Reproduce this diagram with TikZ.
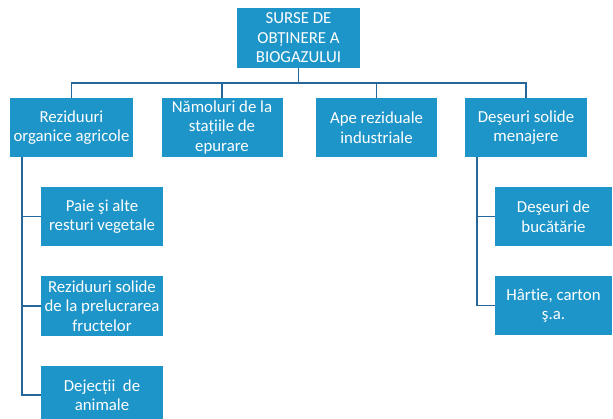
\documentclass[tikz,border=0pt]{standalone}
\usepackage{fontspec}
\setmainfont[Ligatures={NoCommon}]{Carlito}
\definecolor{boxblue}{HTML}{1E95C8}
\definecolor{lineblue}{HTML}{25679A}
\begin{document}
\begin{tikzpicture}[x=1pt,y=-1pt,
  box/.style={draw=none,fill=boxblue,text=white,align=center,inner sep=0pt,
    font=\fontsize{16.8}{19.5}\selectfont},
  conn/.style={draw=lineblue,line width=1.8pt}]
\useasboundingbox (0,0) rectangle (613,419);
\clip (0,0) rectangle (613,419);
\node[box,minimum width=123pt,minimum height=60pt] (top) at (298.5,38) {SURSE DE\\OBȚINERE A\\BIOGAZULUI};
\node[box,minimum width=123pt,minimum height=59pt] (b1) at (71.5,127.5) {Reziduuri\\organice agricole};
\node[box,minimum width=121pt,minimum height=59pt] (b2) at (222,127.5) {Nămoluri de la\\stațiile de\\epurare};
\node[box,minimum width=121pt,minimum height=59pt] (b3) at (376.5,127.5) {Ape reziduale\\industriale};
\node[box,minimum width=122pt,minimum height=59pt] (b4) at (526,127.5) {Deşeuri solide\\menajere};
\node[box,minimum width=122pt,minimum height=59pt] (c1) at (102,216.5) {Paie şi alte\\resturi vegetale};
\node[box,minimum width=122pt,minimum height=60pt] (c2) at (102,306) {Reziduuri solide\\de la prelucrarea\\fructelor};
\node[box,minimum width=122pt,minimum height=58pt] (c3) at (102,395) {Dejecții\ \ de\\animale};
\node[box,minimum width=117pt,minimum height=59pt] (d1) at (553.5,216.5) {Deşeuri de\\bucătărie};
\node[box,minimum width=117pt,minimum height=59pt] (d2) at (553.5,305.5) {Hârtie, carton\\ş.a.};
\coordinate (bus) at (0,83);
\coordinate (tl) at (22,157);
\coordinate (tr) at (477,157);
\draw[conn] (top.south) -- (top.south |- bus);
\draw[conn] (b1.north) -- (b1.north |- bus) -- (b4.north |- bus) -- (b4.north);
\draw[conn] (b2.north) -- (b2.north |- bus);
\draw[conn] (b3.north) -- (b3.north |- bus);
\draw[conn] (b1.south -| tl) |- (c3.west);
\draw[conn] (tl |- c1.west) -- (c1.west);
\draw[conn] (tl |- c2.west) -- (c2.west);
\draw[conn] (b4.south -| tr) |- (d2.west);
\draw[conn] (tr |- d1.west) -- (d1.west);
\end{tikzpicture}
\end{document}
